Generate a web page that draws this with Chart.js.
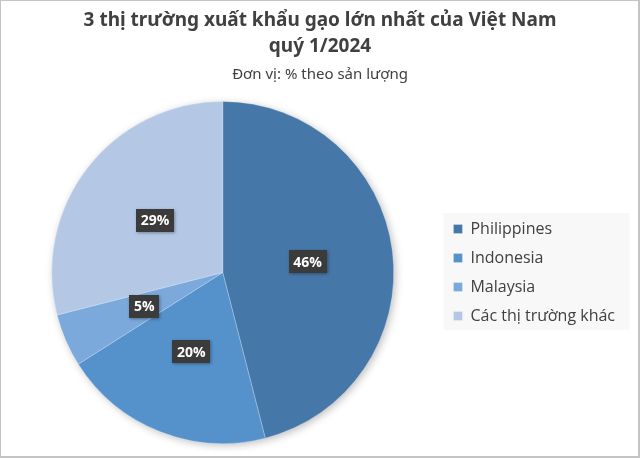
<!DOCTYPE html>
<html>
<head>
<meta charset="utf-8">
<script src="https://cdn.jsdelivr.net/npm/chart.js@4.4.1/dist/chart.umd.min.js"></script>
<style>
  body { margin: 0; background: #fff; }
  canvas { display: block; }
</style>
</head>
<body>
<canvas id="myChart" width="640" height="458"></canvas>
<script>
var titleLines = ['3 thị trường xuất khẩu gạo lớn nhất của Việt Nam', 'quý 1/2024'];
var subtitleText = 'Đơn vị: % theo sản lượng';
var markets = ['Philippines', 'Indonesia', 'Malaysia', 'Các thị trường khác'];
var shares = [46, 20, 5, 29];
var sliceColors = ['#4677a9', '#5592cc', '#7ba9dc', '#b4c8e6'];

// khung xám quanh hình + nền legend + bóng của hình tròn
var decorPlugin = {
    id: 'decor',
    afterLayout: function (chart) {
        // căn giữa tiêu đề theo cả chiều rộng ảnh
        chart.boxes.forEach(function (b) {
            if (b.options && b.options.text !== undefined && b.position === 'top') {
                b.left = 0;
                b.right = chart.width;
                b.width = chart.width;
            }
        });
    },
    beforeDraw: function (chart) {
        var ctx = chart.ctx;
        ctx.save();
        ctx.fillStyle = '#ffffff';
        ctx.fillRect(0, 0, chart.width, chart.height);
        ctx.fillStyle = '#c4c4c4';
        ctx.fillRect(0, 0, chart.width, 1);
        ctx.fillRect(0, 0, 1, chart.height);
        ctx.fillRect(chart.width - 2, 0, 2, chart.height);
        ctx.fillRect(0, chart.height - 2, chart.width, 2);

        var boxes = chart.legend.legendHitBoxes;
        if (boxes && boxes.length) {
            var l = Math.min.apply(null, boxes.map(function (b) { return b.left; }));
            var c1 = boxes[0].top + boxes[0].height / 2;
            var last = boxes[boxes.length - 1];
            var c2 = last.top + last.height / 2;
            ctx.fillStyle = '#f8f8f8';
            ctx.fillRect(l - 10, c1 - 16, 186, c2 - c1 + 30);
        }
        ctx.restore();
    },
    beforeDatasetsDraw: function (chart) {
        var arc = chart.getDatasetMeta(0).data[0];
        if (!arc) return;
        var ctx = chart.ctx;
        ctx.save();
        ctx.shadowColor = 'rgba(0,0,0,0.28)';
        ctx.shadowBlur = 9;
        ctx.shadowOffsetX = 2;
        ctx.shadowOffsetY = 2;
        ctx.fillStyle = '#b4c8e6';
        ctx.beginPath();
        ctx.arc(arc.x, arc.y, arc.outerRadius - 0.5, 0, Math.PI * 2);
        ctx.fill();
        ctx.restore();
    }
};

// nhãn % trong ô tối màu
var boxLabelPlugin = {
    id: 'boxLabels',
    afterDatasetsDraw: function (chart) {
        var ctx = chart.ctx;
        var meta = chart.getDatasetMeta(0);
        ctx.save();
        ctx.font = 'bold 14px "Open Sans", sans-serif';
        ctx.textAlign = 'center';
        ctx.textBaseline = 'middle';
        meta.data.forEach(function (arc, i) {
            var p = arc.tooltipPosition();
            var txt = shares[i] + '%';
            var w = ctx.measureText(txt).width + 9;
            var h = 23;
            ctx.shadowColor = 'rgba(0,0,0,0.35)';
            ctx.shadowBlur = 3;
            ctx.shadowOffsetX = 1;
            ctx.shadowOffsetY = 1;
            ctx.fillStyle = '#3b3b3b';
            ctx.fillRect(Math.round(p.x - w / 2), Math.round(p.y - h / 2), Math.round(w), h);
            ctx.shadowColor = 'transparent';
            ctx.fillStyle = '#ffffff';
            ctx.fillText(txt, p.x, p.y + 1);
        });
        ctx.restore();
    }
};

var ctx = document.getElementById('myChart').getContext('2d');
var myPieChart = new Chart(ctx, {
    type: 'pie',
    data: {
        labels: markets,
        datasets: [{
            data: shares,
            backgroundColor: sliceColors,
            borderColor: 'rgba(255,255,255,0.25)',
            borderWidth: 1
        }]
    },
    options: {
        responsive: false,
        animation: false,
        devicePixelRatio: 1,
        layout: { padding: { left: 5, right: 15, bottom: 14, top: 0 } },
        plugins: {
            title: {
                display: true,
                text: titleLines,
                color: '#404040',
                font: { family: '"Noto Sans", sans-serif', size: 19, weight: 'bold', lineHeight: '26px' },
                padding: { top: 8, bottom: 0 }
            },
            subtitle: {
                display: true,
                text: subtitleText,
                color: '#404040',
                font: { family: '"Noto Sans", sans-serif', size: 15, lineHeight: '18px' },
                padding: { top: 6, bottom: 17 }
            },
            legend: {
                position: 'right',
                fullSize: false,
                labels: {
                    color: '#404040',
                    font: { family: '"Open Sans", sans-serif', size: 16, lineHeight: 1.2 },
                    boxWidth: 9,
                    boxHeight: 9,
                    padding: 13
                }
            },
            tooltip: { enabled: false }
        }
    },
    plugins: [decorPlugin, boxLabelPlugin]
});
</script>
</body>
</html>
